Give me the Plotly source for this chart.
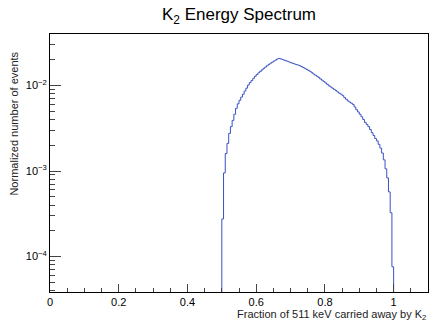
import plotly.graph_objects as go

# Histogram: 0.005-wide bins from 0.500 to 1.000 (zero elsewhere in 0..1.1)
bin_lo = 0.5
bin_width = 0.005
values = [
    2.75e-4, 9.5e-4, 1.6e-3, 2.1e-3, 2.75e-3, 3.3e-3, 3.9e-3, 4.6e-3, 5.4e-3, 6.1e-3,
    6.7e-3, 7.3e-3, 7.9e-3, 8.6e-3, 9.3e-3, 1.01e-2, 1.08e-2, 1.14e-2, 1.21e-2, 1.28e-2,
    1.34e-2, 1.40e-2, 1.46e-2, 1.52e-2, 1.58e-2, 1.64e-2, 1.70e-2, 1.76e-2, 1.82e-2, 1.87e-2,
    1.93e-2, 1.98e-2, 2.04e-2, 2.07e-2,
    2.04e-2, 2.01e-2, 1.97e-2, 1.94e-2, 1.91e-2, 1.87e-2, 1.84e-2, 1.81e-2, 1.78e-2, 1.75e-2,
    1.73e-2, 1.70e-2, 1.66e-2, 1.62e-2, 1.58e-2, 1.54e-2, 1.50e-2, 1.46e-2, 1.41e-2, 1.36e-2,
    1.32e-2, 1.28e-2, 1.24e-2, 1.19e-2, 1.15e-2, 1.11e-2, 1.07e-2, 1.03e-2, 9.9e-3, 9.6e-3,
    9.3e-3, 9.0e-3, 8.7e-3, 8.4e-3, 8.1e-3, 7.9e-3, 7.6e-3, 7.2e-3, 6.9e-3, 6.6e-3,
    6.4e-3, 6.2e-3, 6.0e-3, 5.6e-3, 5.2e-3, 4.9e-3, 4.6e-3, 4.3e-3, 4.0e-3, 3.7e-3,
    3.5e-3, 3.3e-3, 3.05e-3, 2.8e-3, 2.6e-3, 2.4e-3, 2.25e-3, 2.05e-3, 1.85e-3, 1.62e-3,
    1.35e-3, 1.06e-3, 8.3e-4, 5.7e-4, 3.25e-4, 7.6e-5,
]
x_ticks = [0, 0.2, 0.4, 0.6, 0.8, 1.0]
x_tick_labels = ["0", "0.2", "0.4", "0.6", "0.8", "1"]
y_ticks = [1e-4, 1e-3, 1e-2]
y_tick_labels = ["10<sup>\u22124</sup>", "10<sup>\u22123</sup>", "10<sup>\u22122</sup>"]
floor_value = 1e-7

n = len(values)
edges = [bin_lo + i * bin_width for i in range(n + 1)]
xs = [edges[0]] + edges[:n] + [edges[n]]
ys = [floor_value] + values + [floor_value]

minor_y = []
for dec in [1e-5, 1e-4, 1e-3, 1e-2]:
    for m in range(2, 10):
        minor_y.append(m * dec)
minor_x = [i * 0.05 for i in range(23) if i % 4 != 0]

fig = go.Figure()
fig.add_trace(go.Scatter(x=xs, y=ys, mode="lines", line_shape="hv",
                         line=dict(color="#3a52c2", width=1), showlegend=False,
                         hoverinfo="skip"))

font = "Liberation Sans, Arial, sans-serif"
fig.update_layout(
    width=433, height=329,
    margin=dict(l=50, r=5, t=34, b=37),
    paper_bgcolor="white", plot_bgcolor="white",
    font=dict(family=font, size=11, color="#000"),
    title=dict(text="K<sub>2</sub> Energy Spectrum", xref="paper", x=0.5, xanchor="center",
               y=1 - 14 / 329, yanchor="middle", font=dict(size=17, family=font, color="#000")),
    xaxis=dict(range=[0, 1.1], showgrid=False, zeroline=False,
               showline=True, mirror=True, linecolor="#000", linewidth=1,
               ticks="inside", ticklen=8, tickcolor="#444", tickwidth=1,
               tickvals=x_ticks, ticktext=x_tick_labels,
               tickfont=dict(size=11, family=font),
               minor=dict(ticks="inside", ticklen=4, tickcolor="#444", tickvals=minor_x)),
    yaxis=dict(type="log", range=[-4.414, -1.399], showgrid=False, zeroline=False,
               showline=True, mirror=True, linecolor="#000", linewidth=1,
               ticks="inside", ticklen=11, tickcolor="#444", tickwidth=1,
               tickvals=y_ticks, ticktext=y_tick_labels,
               tickfont=dict(size=11, family=font),
               minor=dict(ticks="inside", ticklen=5, tickcolor="#444", tickvals=minor_y)),
    annotations=[
        dict(text="Normalized number of events", textangle=-90, xref="paper", yref="paper",
             x=-0.095, y=0.94, xanchor="center", yanchor="top", showarrow=False,
             font=dict(size=11, family=font, color="#222")),
        dict(text="Fraction of 511 keV carried away by K<sub>2</sub>", xref="paper", yref="paper",
             x=1.0, y=-0.09, xanchor="right", yanchor="middle", showarrow=False,
             font=dict(size=11, family=font, color="#222")),
    ],
)

fig.write_html("out.html")
